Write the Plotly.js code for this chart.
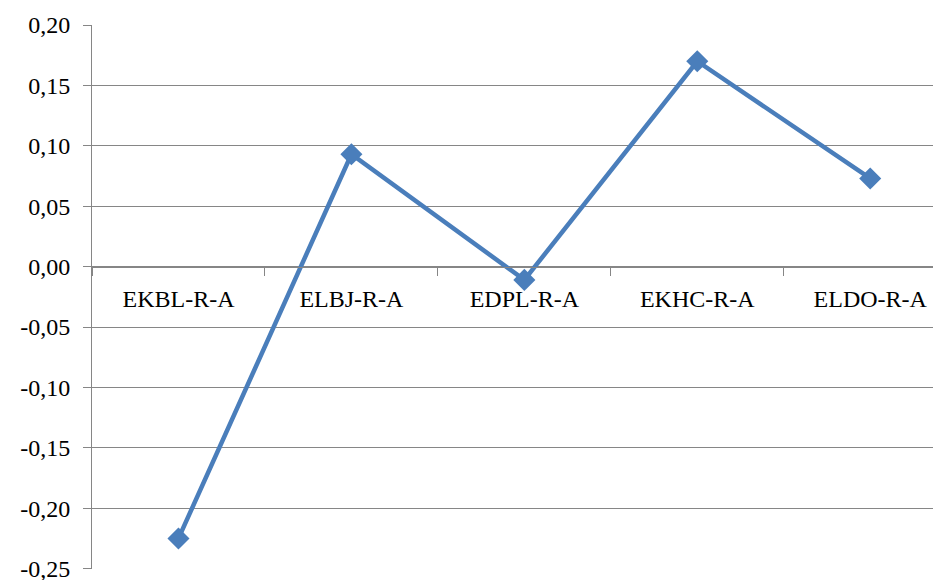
<!DOCTYPE html>
<html>
<head>
<meta charset="utf-8">
<script src="https://cdn.plot.ly/plotly-3.0.1.min.js"></script>
<style>
html,body{margin:0;padding:0;background:#fff;overflow:hidden;}
#chart{width:933px;height:580px;}
</style>
</head>
<body>
<div id="chart"></div>
<script>
var categories = ["EKBL-R-A", "ELBJ-R-A", "EDPL-R-A", "EKHC-R-A", "ELDO-R-A"];
var values = [-0.225, 0.093, -0.011, 0.170, 0.073];
var yTickVals = [-0.25, -0.20, -0.15, -0.10, -0.05, 0, 0.05, 0.10, 0.15, 0.20];
var yTickText = ["-0,25", "-0,20", "-0,15", "-0,10", "-0,05", "0,00", "0,05", "0,10", "0,15", "0,20"];

var trace = {
  x: categories,
  y: values,
  type: "scatter",
  mode: "lines+markers",
  line: {color: "#4a7ebb", width: 4.5},
  marker: {symbol: "diamond", size: 17, color: "#4a7ebb"},
  hoverinfo: "none"
};

var fontFam = "Liberation Serif, DejaVu Serif";
var layout = {
  width: 933,
  height: 580,
  margin: {l: 92, r: 0, t: 25, b: 11, pad: 0},
  paper_bgcolor: "#ffffff",
  plot_bgcolor: "#ffffff",
  showlegend: false,
  font: {family: fontFam, color: "#000000"},
  xaxis: {
    type: "category",
    range: [-0.5, 4.363],
    anchor: "free",
    position: 0.25 / 0.45,
    showline: true,
    linecolor: "#868686",
    linewidth: 1,
    showgrid: false,
    zeroline: false,
    ticks: "outside",
    tickson: "boundaries",
    ticklen: 8,
    tickcolor: "#868686",
    tickfont: {family: fontFam, size: 24, color: "#000000"},
    ticklabelstandoff: 10,
    automargin: false
  },
  yaxis: {
    range: [-0.2503, 0.20],
    tickvals: yTickVals,
    ticktext: yTickText,
    showline: true,
    linecolor: "#868686",
    linewidth: 1,
    showgrid: true,
    gridcolor: "#868686",
    gridwidth: 1,
    zeroline: false,
    ticks: "outside",
    ticklen: 8,
    tickcolor: "#868686",
    tickfont: {family: fontFam, size: 24, color: "#000000"},
    ticklabelstandoff: 8,
    ticklabeloverflow: "allow",
    automargin: false
  }
};

Plotly.newPlot("chart", [trace], layout, {displayModeBar: false, staticPlot: true});
</script>
</body>
</html>
